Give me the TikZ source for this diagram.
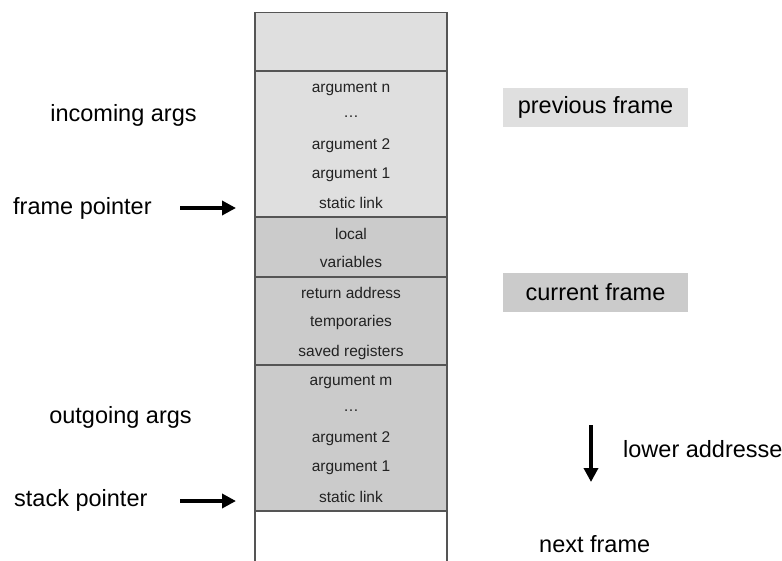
\documentclass[tikz,border=0pt]{standalone}
\usepackage{fontspec}
\setmainfont{Liberation Sans}
\usetikzlibrary{arrows.meta}
\definecolor{lightcell}{HTML}{DFDFDF}
\definecolor{midcell}{HTML}{CBCBCB}
\definecolor{edgegray}{HTML}{555555}
\definecolor{celltext}{HTML}{222222}
\begin{document}
\begin{tikzpicture}[x=1pt,y=-1pt,
  cellbox/.style={draw=edgegray, line width=1.4pt, anchor=north west, minimum width=192pt, inner sep=0pt, outer sep=0pt},
  celltxt/.style={text=celltext, font=\fontsize{15.5}{18}\selectfont, inner sep=0pt, anchor=center},
  bigtxt/.style={text=black, font=\fontsize{23.5}{28}\selectfont, inner sep=0pt},
  tagbox/.style={bigtxt, minimum width=185pt, minimum height=39pt, anchor=center},
  fatarrow/.style={line width=4pt, -{Triangle[length=14pt,width=14pt]}}
]
\useasboundingbox (0,0) rectangle (782,560);
\clip (0,0) rectangle (782,560);
% column cells
\node[cellbox, fill=lightcell, minimum height=58.5pt] (c0) at (255,12.5) {};
\node[cellbox, fill=lightcell, minimum height=146pt] (c1) at (255,71) {};
\node[cellbox, fill=midcell, minimum height=60pt] (c2) at (255,217) {};
\node[cellbox, fill=midcell, minimum height=88pt] (c3) at (255,277) {};
\node[cellbox, fill=midcell, minimum height=146pt] (c4) at (255,365) {};
\node[cellbox, fill=white, minimum height=55pt] (c5) at (255,511) {};
% cell texts
\node[celltxt] (t1a) at (351,89) {argument n};
\node[celltxt] (t1b) at (351,117) {\dots};
\node[celltxt] (t1c) at (351,146) {argument 2};
\node[celltxt] (t1d) at (351,175) {argument 1};
\node[celltxt] (t1e) at (351,203) {static link};
\node[celltxt] (t2a) at (351,234) {local};
\node[celltxt] (t2b) at (351,262) {variables};
\node[celltxt] (t3a) at (351,293) {return address};
\node[celltxt] (t3b) at (351,322) {temporaries};
\node[celltxt] (t3c) at (351,352) {saved registers};
\node[celltxt] (t4a) at (351,382) {argument m};
\node[celltxt] (t4b) at (351,411) {\dots};
\node[celltxt] (t4c) at (351,439) {argument 2};
\node[celltxt] (t4d) at (351,468) {argument 1};
\node[celltxt] (t4e) at (351,497) {static link};
% left labels
\node[bigtxt] (inc) at (123.5,115) {incoming args};
\node[bigtxt, anchor=west] (fp) at (13,208) {frame pointer};
\node[bigtxt] (outg) at (120.5,417) {outgoing args};
\node[bigtxt, anchor=west] (sp) at (14,500) {stack pointer};
\coordinate (fpa) at (180,208);
\coordinate (fpb) at (236,208);
\coordinate (spa) at (180,501);
\coordinate (spb) at (236,501);
\draw[fatarrow] (fpa) -- (fpb);
\draw[fatarrow] (spa) -- (spb);
% right labels
\node[tagbox, fill=lightcell] (prev) at (595.5,107.5) {previous frame};
\node[tagbox, fill=midcell] (cur) at (595.5,292) {current frame};
\coordinate (da) at (591,425);
\coordinate (db) at (591,482);
\draw[fatarrow] (da) -- (db);
\node[bigtxt, anchor=west] (low) at (623,449) {lower addresses};
\node[bigtxt, anchor=west] (next) at (539,544) {next frame};
\end{tikzpicture}
\end{document}
